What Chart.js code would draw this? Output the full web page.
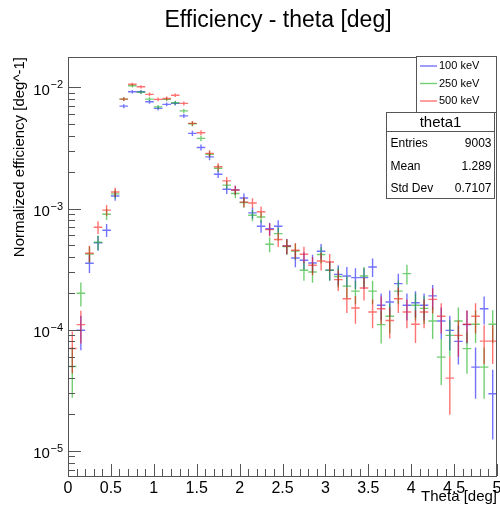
<!DOCTYPE html>
<html>
<head>
<meta charset="utf-8">
<script src="https://cdn.jsdelivr.net/npm/chart.js@4/dist/chart.umd.min.js"></script>
<style>
  html, body { margin: 0; padding: 0; background: #fff; }
  canvas { display: block; }
</style>
</head>
<body>
<canvas id="thetaChart" width="500" height="506"></canvas>
<script>
// histogram binning: 50 bins of 0.1 deg between 0 and 5
const binWidth = 0.1;
const binCenters = Array.from({ length: 50 }, (_, i) => +(0.05 + binWidth * i).toFixed(2));

// normalized efficiency per bin [deg^-1]
const eff100keV = [null, 9.9e-5, 3.53e-4, 5.2e-4, 6.62e-4, 1.27e-3, 7.0e-3, 9.2e-3, 9.2e-3, 7.6e-3,
  6.7e-3, 7.24e-3, 7.37e-3, 5.82e-3, 4.17e-3, 3.19e-3, 2.67e-3, 1.92e-3, 1.44e-3, 1.42e-3,
  1.22e-3, 9.2e-4, 7.14e-4, 6.8e-4, 7.14e-4, 4.9e-4, 3.9e-4, 3.74e-4, 3.55e-4, 4.44e-4,
  3.1e-4, 2.86e-4, 2.77e-4, 2.69e-4, 2.69e-4, 3.29e-4, 1.59e-4, 1.69e-4, 2.4e-4, 1.59e-4,
  1.67e-4, 1.59e-4, 1.9e-4, 1.18e-4, 9.87e-5, 8.0e-5, 1.1e-4, 4.91e-5, 1.49e-4, 2.96e-5];
const eff250keV = [4.97e-5, 2.0e-4, 4.2e-4, 5.27e-4, 8.97e-4, 1.32e-3, 8.0e-3, 1.03e-2, 9.1e-3, 8.0e-3,
  6.9e-3, 7.96e-3, 7.46e-3, 6.4e-3, 5.0e-3, 3.79e-3, 2.8e-3, 2.15e-3, 1.56e-3, 1.33e-3,
  1.12e-3, 8.8e-4, 8.5e-4, 5.07e-4, 6.2e-4, 4.85e-4, 4.45e-4, 3.09e-4, 2.99e-4, 4.17e-4,
  3.09e-4, 2.75e-4, 2.29e-4, 2.08e-4, 2.77e-4, 2.08e-4, 1.1e-4, 1.29e-4, 2.08e-4, 2.9e-4,
  1.59e-4, 1.5e-4, 1.18e-4, 5.94e-5, 8.97e-5, 1.18e-4, 6.97e-5, 1.11e-4, 4.91e-5, 1.11e-4];
const eff500keV = [7.0e-5, 1.1e-4, 4.27e-4, 7.0e-4, 9.7e-4, 1.37e-3, 8.0e-3, 1.06e-2, 1.01e-2, 8.75e-3,
  7.96e-3, 8.1e-3, 8.6e-3, 7.37e-3, 5.04e-3, 4.22e-3, 2.85e-3, 2.21e-3, 1.69e-3, 1.42e-3,
  1.13e-3, 1.11e-3, 9.4e-4, 6.7e-4, 5.55e-4, 4.9e-4, 4.52e-4, 4.19e-4, 3.4e-4, 3.69e-4,
  3.62e-4, 2.59e-4, 1.8e-4, 1.51e-4, 2.21e-4, 1.4e-4, 1.49e-4, 1.19e-4, 1.8e-4, 1.4e-4,
  1.11e-4, 1.4e-4, 1.78e-4, 1.29e-4, 3.98e-5, 8.97e-5, 1.11e-4, 1.29e-4, 8.05e-5, 8.05e-5];

// statistical errors: generated events used for the normalization
const nGenerated = 1.0e6;

const seriesLabels = ['100 keV', '250 keV', '500 keV'];
const seriesColors = ['rgba(0, 0, 255, 0.55)', 'rgba(0, 165, 0, 0.55)', 'rgba(255, 0, 0, 0.55)'];

const xTicks = [0, 0.5, 1, 1.5, 2, 2.5, 3, 3.5, 4, 4.5, 5];
const yDecades = [-5, -4, -3, -2];
const yMin = 6.2e-6, yMax = 1.78e-2;

const statsName = 'theta1';
const statsRows = [['Entries', '9003'], ['Mean', '1.289'], ['Std Dev', '0.7107']];

const FONT = "'Liberation Sans', Arial, Helvetica, sans-serif";
const AXIS_COLOR = '#555';

function toPoints(values) {
  return values.map((v, i) => ({
    x: binCenters[i],
    y: v,
    err: v == null ? 0 : Math.sqrt(v / (nGenerated * binWidth))
  }));
}

// crosses: horizontal bar = bin width, vertical bar = statistical error
const errorBars = {
  id: 'errorBars',
  afterDatasetsDraw(chart) {
    const { ctx, chartArea, scales: { x, y } } = chart;
    ctx.save();
    ctx.beginPath();
    ctx.rect(chartArea.left, chartArea.top, chartArea.right - chartArea.left, chartArea.bottom - chartArea.top);
    ctx.clip();
    ctx.lineWidth = 1.4;
    chart.data.datasets.forEach(ds => {
      ctx.strokeStyle = ds.borderColor;
      ds.data.forEach(p => {
        if (p.y == null) return;
        const px = x.getPixelForValue(p.x);
        const py = y.getPixelForValue(p.y);
        const x0 = x.getPixelForValue(p.x - binWidth / 2);
        const x1 = x.getPixelForValue(p.x + binWidth / 2);
        const lo = p.y - p.err;
        const yLo = lo > 0 ? y.getPixelForValue(lo) : chartArea.bottom;
        const yHi = y.getPixelForValue(p.y + p.err);
        ctx.beginPath();
        ctx.moveTo(x0, py);
        ctx.lineTo(x1, py);
        ctx.moveTo(px, yHi);
        ctx.lineTo(px, yLo);
        ctx.stroke();
      });
    });
    ctx.restore();
  }
};

// ROOT-like frame, inward ticks, titles, legend and stats box
const rootDecor = {
  id: 'rootDecor',
  afterDraw(chart) {
    const { ctx, chartArea: a, scales: { x, y } } = chart;
    ctx.save();
    ctx.strokeStyle = AXIS_COLOR;
    ctx.lineWidth = 1;
    ctx.strokeRect(Math.round(a.left) + 0.5, Math.round(a.top) + 0.5,
      Math.round(a.right - a.left) - 1, Math.round(a.bottom - a.top));

    // x ticks every 0.1, longer every 0.5
    ctx.beginPath();
    for (let i = 0; i <= 50; i++) {
      const px = Math.round(x.getPixelForValue(i * binWidth)) + 0.5;
      const len = i % 5 === 0 ? 12 : 7;
      ctx.moveTo(px, a.bottom);
      ctx.lineTo(px, a.bottom - len);
    }
    // y ticks at 1..9 x 10^n
    for (let d = -6; d <= -2; d++) {
      for (let m = 1; m <= 9; m++) {
        const v = m * Math.pow(10, d);
        if (v < yMin || v > yMax) continue;
        const py = Math.round(y.getPixelForValue(v)) + 0.5;
        ctx.moveTo(a.left, py);
        ctx.lineTo(a.left + (m === 1 ? 13 : 7), py);
      }
    }
    ctx.stroke();

    // y labels 10^n
    ctx.fillStyle = '#000';
    ctx.textAlign = 'right';
    ctx.textBaseline = 'alphabetic';
    yDecades.forEach(d => {
      const py = y.getPixelForValue(Math.pow(10, d));
      const sup = '\u2212' + Math.abs(d);
      ctx.font = '11px ' + FONT;
      const supW = ctx.measureText(sup).width;
      ctx.fillText(sup, a.left - 5, py + 1);
      ctx.font = '15px ' + FONT;
      ctx.fillText('10', a.left - 5 - supW - 0.5, py + 7.5);
    });

    // titles
    ctx.textAlign = 'center';
    ctx.textBaseline = 'middle';
    ctx.font = '23px ' + FONT;
    ctx.fillText('Efficiency - theta [deg]', 278, 21);

    ctx.font = '15px ' + FONT;
    ctx.textAlign = 'right';
    ctx.fillText('Theta [deg]', a.right, 497);

    ctx.save();
    ctx.translate(20, a.top);
    ctx.rotate(-Math.PI / 2);
    ctx.textAlign = 'right';
    ctx.fillText('Normalized efficiency [deg^-1]', 0, 0);
    ctx.restore();

    // legend box
    const lg = { left: 416.5, top: 56.5, right: 496.5, bottom: 112.5 };
    ctx.fillStyle = '#fff';
    ctx.fillRect(lg.left, lg.top, lg.right - lg.left, lg.bottom - lg.top);
    ctx.strokeStyle = AXIS_COLOR;
    ctx.strokeRect(lg.left, lg.top, lg.right - lg.left, lg.bottom - lg.top);
    ctx.font = '11px ' + FONT;
    ctx.textAlign = 'left';
    chart.data.datasets.forEach((ds, i) => {
      const ry = 66 + i * 17.5;
      ctx.strokeStyle = ds.borderColor;
      ctx.lineWidth = 1.4;
      ctx.beginPath();
      ctx.moveTo(420, ry);
      ctx.lineTo(437, ry);
      ctx.stroke();
      ctx.fillStyle = '#000';
      ctx.fillText(ds.label, 439, ry);
    });

    // stats box
    const st = { left: 386.5, top: 112.5, right: 494.5, bottom: 198.5 };
    ctx.fillStyle = '#fff';
    ctx.fillRect(st.left, st.top, st.right - st.left, st.bottom - st.top);
    ctx.strokeStyle = AXIS_COLOR;
    ctx.lineWidth = 1;
    ctx.strokeRect(st.left, st.top, st.right - st.left, st.bottom - st.top);
    ctx.beginPath();
    ctx.moveTo(st.left, 131.5);
    ctx.lineTo(st.right, 131.5);
    ctx.stroke();
    ctx.fillStyle = '#000';
    ctx.textAlign = 'center';
    ctx.font = '15px ' + FONT;
    ctx.fillText(statsName, (st.left + st.right) / 2, 122.5);
    ctx.font = '12px ' + FONT;
    statsRows.forEach((r, i) => {
      const ry = 144 + i * 22.5;
      ctx.textAlign = 'left';
      ctx.fillText(r[0], st.left + 4, ry);
      ctx.textAlign = 'right';
      ctx.fillText(r[1], st.right - 3, ry);
    });
    ctx.restore();
  }
};

const ctx = document.getElementById('thetaChart').getContext('2d');
new Chart(ctx, {
  type: 'scatter',
  data: {
    datasets: [eff100keV, eff250keV, eff500keV].map((vals, i) => ({
      label: seriesLabels[i],
      data: toPoints(vals),
      borderColor: seriesColors[i],
      backgroundColor: seriesColors[i],
      pointRadius: 0,
      showLine: false
    }))
  },
  options: {
    responsive: false,
    animation: false,
    events: [],
    layout: { padding: { top: 57, right: 3, left: 0, bottom: 0 } },
    plugins: {
      legend: { display: false },
      tooltip: { enabled: false },
      title: { display: false }
    },
    scales: {
      x: {
        type: 'linear',
        min: 0,
        max: 5,
        grid: { display: false, drawTicks: false },
        border: { display: false },
        ticks: {
          autoSkip: false,
          maxRotation: 0,
          padding: 3,
          color: '#000',
          font: { family: FONT, size: 16 },
          callback: v => String(v)
        },
        afterBuildTicks: s => { s.ticks = xTicks.map(v => ({ value: v })); },
        afterFit: s => { s.height = 30; s.paddingLeft = 0; s.paddingRight = 0; }
      },
      y: {
        type: 'logarithmic',
        min: yMin,
        max: yMax,
        grid: { display: false, drawTicks: false },
        border: { display: false },
        ticks: { display: false },
        afterFit: s => { s.width = 68; s.paddingTop = 0; s.paddingBottom = 0; }
      }
    }
  },
  plugins: [errorBars, rootDecor]
});
</script>
</body>
</html>
